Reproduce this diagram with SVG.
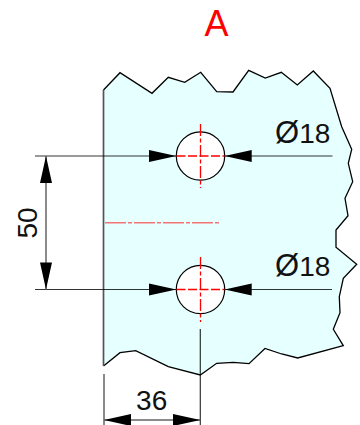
<svg xmlns="http://www.w3.org/2000/svg" width="360" height="425" viewBox="0 0 360 425">
<style>
.l{fill:none;stroke:#000;stroke-width:1.2}
.c{fill:none;stroke:#f00;stroke-width:1.3;stroke-dasharray:9 2.5}
.t{font-family:"Liberation Sans",Arial,sans-serif;font-size:28px;fill:#111}
.o{font-size:31px}
.a{fill:#000}
</style>
<g id="plate">
<path d="M103.5 90L120 72.7L152 93.3L168.3 77.3L184.7 82.3L200.7 72.3L216.7 91.7L233 92L248.7 70.3L265.3 78L281.3 72.3L297.3 85L313.3 71L330 88.3L341.7 126.7L351.7 149.3L348.3 163.3L352.7 181.7L345 198.3L348 215.7L336 230L336 247.3L356.7 264.3L343.3 278.3L339.3 296.7L340 312.7L333.3 329.3L343.3 345.7L297.7 358L281.7 354L265 348.5L249 363.7L233.3 362.3L216.7 363.3L200.3 375L168.3 366.7L135.7 350.7L120 352.7L103.5 366Z" fill="#e6ffff" stroke="none"/>
<path d="M103.5 90L120 72.7L152 93.3L168.3 77.3L184.7 82.3L200.7 72.3L216.7 91.7L233 92L248.7 70.3L265.3 78L281.3 72.3L297.3 85L313.3 71L330 88.3L341.7 126.7L351.7 149.3L348.3 163.3L352.7 181.7L345 198.3L348 215.7L336 230L336 247.3L356.7 264.3L343.3 278.3L339.3 296.7L340 312.7L333.3 329.3L343.3 345.7L297.7 358L281.7 354L265 348.5L249 363.7L233.3 362.3L216.7 363.3L200.3 375L168.3 366.7L135.7 350.7L120 352.7L103.5 366" fill="none" stroke="#000" stroke-width="1.3"/>
<path d="M103.5 90V366" fill="none" stroke="#555" stroke-width="1.7"/>
<path d="M105 222.7H221" fill="none" stroke="#f00" stroke-width="1.5" stroke-dasharray="21 2 4 2" opacity=".55"/>
</g>
<g id="hole-top">
<circle cx="200.5" cy="156" r="24.2" fill="#fff" stroke="#000" stroke-width="1.2"/>
<path class="c" d="M176.5 156H224.5"/>
<path class="c" d="M200.5 124V188" style="stroke-dasharray:12 2.5 4 2.5"/>
</g>
<g id="hole-bottom">
<circle cx="200.5" cy="289.5" r="24.2" fill="#fff" stroke="#000" stroke-width="1.2"/>
<path class="c" d="M176.5 289.5H224.5"/>
<path class="c" d="M200.5 257V322" style="stroke-dasharray:12 2.5 4 2.5"/>
</g>
<g id="connectors">
<path class="l" d="M35 156H176M225 156H332.5M35 289.5H176M225 289.5H332M200.3 329V425" stroke-opacity=".8"/>
<path class="l" d="M46 156V289.5M104 374V425M104 420H200.3" style="stroke:#666;stroke-width:1.5"/>
<path class="a" d="M176.3 156L149 150V162ZM224.7 156L251.7 150V162ZM176.3 289.5L149 283.5V295.5ZM224.7 289.5L251.7 283.5V295.5ZM46 156L40 183H52ZM46 289.5L40 262.5H52ZM104 420L131 414V426ZM200.3 420L173 414V426Z"/>
</g>
<g id="labels">
<text class="t" x="216.5" y="35.7" text-anchor="middle" style="fill:#f00;font-size:36px">A</text>
<text class="t" x="275" y="143"><tspan class="o">Ø</tspan>18</text>
<text class="t" x="275" y="275.5"><tspan class="o">Ø</tspan>18</text>
<text class="t" x="151.7" y="410" text-anchor="middle">36</text>
<text class="t" transform="translate(37 223) rotate(-90)" text-anchor="middle">50</text>
</g>
</svg>
